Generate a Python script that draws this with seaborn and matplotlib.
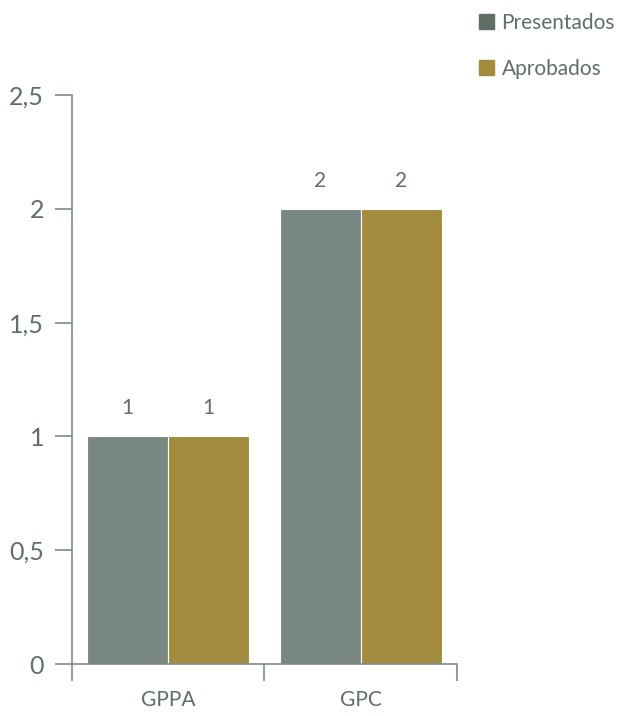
import matplotlib
matplotlib.use("Agg")
import matplotlib.pyplot as plt
import matplotlib.patches as mpatches
import seaborn as sns
import pandas as pd

grupos = ["GPPA", "GPC"]
presentados = [1, 2]
aprobados = [1, 2]
series = ["Presentados", "Aprobados"]
colores = ["#78877f", "#a38b3e"]
colores_leyenda = ["#5f6f66", "#a38b3e"]
yticks = [0, 0.5, 1, 1.5, 2, 2.5]
ytick_labels = ["0", "0,5", "1", "1,5", "2", "2,5"]

df = pd.DataFrame({
    "grupo": grupos * 2,
    "valor": presentados + aprobados,
    "tipo": [series[0]] * len(grupos) + [series[1]] * len(grupos),
})

sns.set_style("white")
plt.rcParams["font.family"] = ["Lato", "DejaVu Sans"]
texto = "#5f6e66"
eje = "#7d8c84"

fig = plt.figure(figsize=(6.28, 7.16), dpi=100)
ax = fig.add_axes([0.1146, 0.0726, 0.6131, 0.7947])

sns.barplot(data=df, x="grupo", y="valor", hue="tipo", palette=colores,
            width=0.84, saturation=1, edgecolor="white", linewidth=0.8,
            ax=ax, legend=False)

for c in ax.containers:
    ax.bar_label(c, labels=[f"{v:g}" for v in c.datavalues], padding=13,
                 fontsize=15, color=texto)

ax.set_ylim(0, 2.5)
ax.set_xlim(-0.5, 1.5)
ax.set_yticks(yticks)
ax.set_yticklabels(ytick_labels, fontsize=18, color=texto)
ax.set_xticks(range(len(grupos)))
ax.set_xticklabels(grupos, fontsize=15, color=texto)
ax.set_xticks([-0.5, 0.5, 1.5], minor=True)
ax.tick_params(axis="x", which="major", bottom=True, length=0, pad=19)
ax.tick_params(axis="x", which="minor", bottom=True, length=12, width=1.2,
               color=eje, direction="out")
ax.tick_params(axis="y", left=True, length=12, width=1.2, color=eje,
               direction="out", pad=8)
ax.set_xlabel("")
ax.set_ylabel("")

for s in ["top", "right"]:
    ax.spines[s].set_visible(False)
for s in ["left", "bottom"]:
    ax.spines[s].set_color(eje)
    ax.spines[s].set_linewidth(1.2)

handles = [mpatches.Patch(color=c, label=l) for c, l in zip(colores_leyenda, series)]
fig.legend(handles=handles, loc="upper left", bbox_to_anchor=(0.762, 0.982),
           frameon=False, fontsize=15, labelcolor=texto, handlelength=0.75,
           handleheight=0.75, handletextpad=0.35, labelspacing=1.25,
           borderpad=0, borderaxespad=0)

plt.savefig("out.png", dpi=100)
plt.close()
